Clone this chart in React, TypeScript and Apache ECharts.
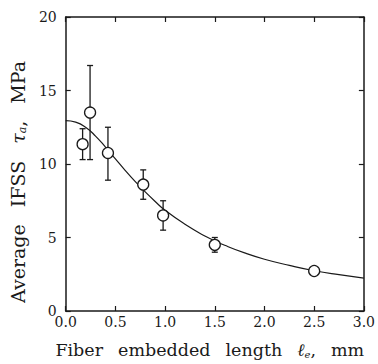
import React, { useEffect, useRef } from "react";
import * as echarts from "echarts";

// Measured data points (fiber embedded length, mm) and IFSS (MPa)
const lengths = [0.17, 0.245, 0.425, 0.78, 0.98, 1.5, 2.5];
const ifss = [11.35, 13.5, 10.75, 8.6, 6.5, 4.5, 2.72];
const errLow = [10.3, 10.3, 8.9, 7.6, 5.5, 4.0, 2.72];
const errHigh = [12.4, 16.7, 12.5, 9.6, 7.5, 5.0, 2.72];

// Fitted curve
const curveX = [0, 0.1, 0.2, 0.3, 0.4, 0.5, 0.6, 0.7, 0.8, 0.9, 1.0, 1.2, 1.4, 1.5, 1.6, 1.8, 2.0, 2.25, 2.5, 2.75, 3.0];
const curveY = [12.95, 12.85, 12.5, 11.9, 11.15, 10.35, 9.55, 8.8, 8.1, 7.45, 6.85, 5.9, 5.1, 4.78, 4.47, 3.95, 3.52, 3.1, 2.74, 2.47, 2.24];

const xTicks = [0, 0.5, 1, 1.5, 2, 2.5, 3];
const yTicks = [0, 5, 10, 15, 20];

const FONT = "DejaVu Serif";
const INK = "#1a1a1a";

export default function App() {
  const ref = useRef<HTMLDivElement>(null);
  useEffect(() => {
    if (!ref.current) return;
    const chart = echarts.init(ref.current, null, { renderer: "svg" });
    const errData = lengths.map((x, i) => [x, errLow[i], errHigh[i]]);
    const axisCommon = {
      type: "value" as const,
      axisLine: { show: true, onZero: false, lineStyle: { color: INK, width: 1.5 } },
      axisTick: { show: true, inside: true, length: 5, lineStyle: { color: INK, width: 1.2 } },
      splitLine: { show: false },
    };
    const xRich = {
      n: { fontFamily: FONT, fontSize: 17.5, color: INK },
      w: { fontFamily: FONT, fontSize: 17.5, color: INK, width: 15 },
      i: { fontFamily: FONT, fontSize: 17.5, color: INK, fontStyle: "italic" },
      s: { fontFamily: FONT, fontSize: 10, color: INK, fontStyle: "italic", padding: [9, 0, 0, 0] },
    };
    const yRich = {
      n: { fontFamily: FONT, fontSize: 19, color: INK },
      w: { fontFamily: FONT, fontSize: 19, color: INK, width: 17 },
      i: { fontFamily: FONT, fontSize: 19, color: INK, fontStyle: "italic" },
      s: { fontFamily: FONT, fontSize: 11, color: INK, fontStyle: "italic", padding: [10, 0, 0, 0] },
    };
    chart.setOption({
      animation: false,
      backgroundColor: "#fff",
      grid: { left: 62, right: 11, top: 17, bottom: 46 },
      xAxis: [
        {
          ...axisCommon,
          position: "bottom",
          min: xTicks[0],
          max: xTicks[xTicks.length - 1],
          interval: 0.5,
          axisLabel: {
            show: true,
            color: INK,
            fontFamily: FONT,
            fontSize: 14,
            margin: 4,
            formatter: (v: number) => v.toFixed(1),
          },
          name: "{n|Fiber}{w| }{n|embedded}{w| }{n|length}{w| }{i|ℓ}{s|e}{n|,}{w| }{n|mm}",
          nameLocation: "middle",
          nameGap: 29,
          nameTextStyle: { rich: xRich, padding: [0, 10, 0, 0] },
        },
        {
          ...axisCommon,
          position: "top",
          min: xTicks[0],
          max: xTicks[xTicks.length - 1],
          interval: 0.5,
          axisLabel: { show: false },
        },
      ],
      yAxis: [
        {
          ...axisCommon,
          position: "left",
          min: yTicks[0],
          max: yTicks[yTicks.length - 1],
          interval: 5,
          axisLabel: { show: true, color: INK, fontFamily: FONT, fontSize: 14, margin: 9 },
          name: "{n|Average}{w| }{n|IFSS}{w| }{i|τ}{s|a}{n|,}{w| }{n|MPa}",
          nameLocation: "middle",
          nameRotate: 90,
          nameGap: 31,
          nameTextStyle: { rich: yRich, padding: [0, 36, 0, 0] },
        },
        {
          ...axisCommon,
          position: "right",
          min: yTicks[0],
          max: yTicks[yTicks.length - 1],
          interval: 5,
          axisLabel: { show: false },
        },
      ],
      series: [
        {
          type: "line",
          data: curveX.map((x, i) => [x, curveY[i]]),
          smooth: true,
          symbol: "none",
          lineStyle: { color: INK, width: 1.2 },
          z: 2,
        },
        {
          type: "custom",
          data: errData,
          z: 3,
          renderItem: (params: any, api: any) => {
            const x = api.value(0);
            const lo = api.coord([x, api.value(1)]);
            const hi = api.coord([x, api.value(2)]);
            if (Math.abs(lo[1] - hi[1]) < 1) return { type: "group", children: [] };
            const cap = 3;
            const style = { stroke: INK, lineWidth: 1.3, fill: "none" };
            return {
              type: "group",
              children: [
                { type: "line", shape: { x1: lo[0], y1: lo[1], x2: hi[0], y2: hi[1] }, style },
                { type: "line", shape: { x1: lo[0] - cap, y1: lo[1], x2: lo[0] + cap, y2: lo[1] }, style },
                { type: "line", shape: { x1: hi[0] - cap, y1: hi[1], x2: hi[0] + cap, y2: hi[1] }, style },
              ],
            };
          },
        },
        {
          type: "scatter",
          data: lengths.map((x, i) => [x, ifss[i]]),
          symbol: "circle",
          symbolSize: 11,
          itemStyle: { color: "#fff", borderColor: INK, borderWidth: 1.3, opacity: 1 },
          z: 5,
        },
      ],
    });
    return () => chart.dispose();
  }, []);
  return (
    <div
      ref={ref}
      style={{ position: "fixed", left: 0, top: 0, width: 378, height: 364, background: "#fff" }}
    />
  );
}
